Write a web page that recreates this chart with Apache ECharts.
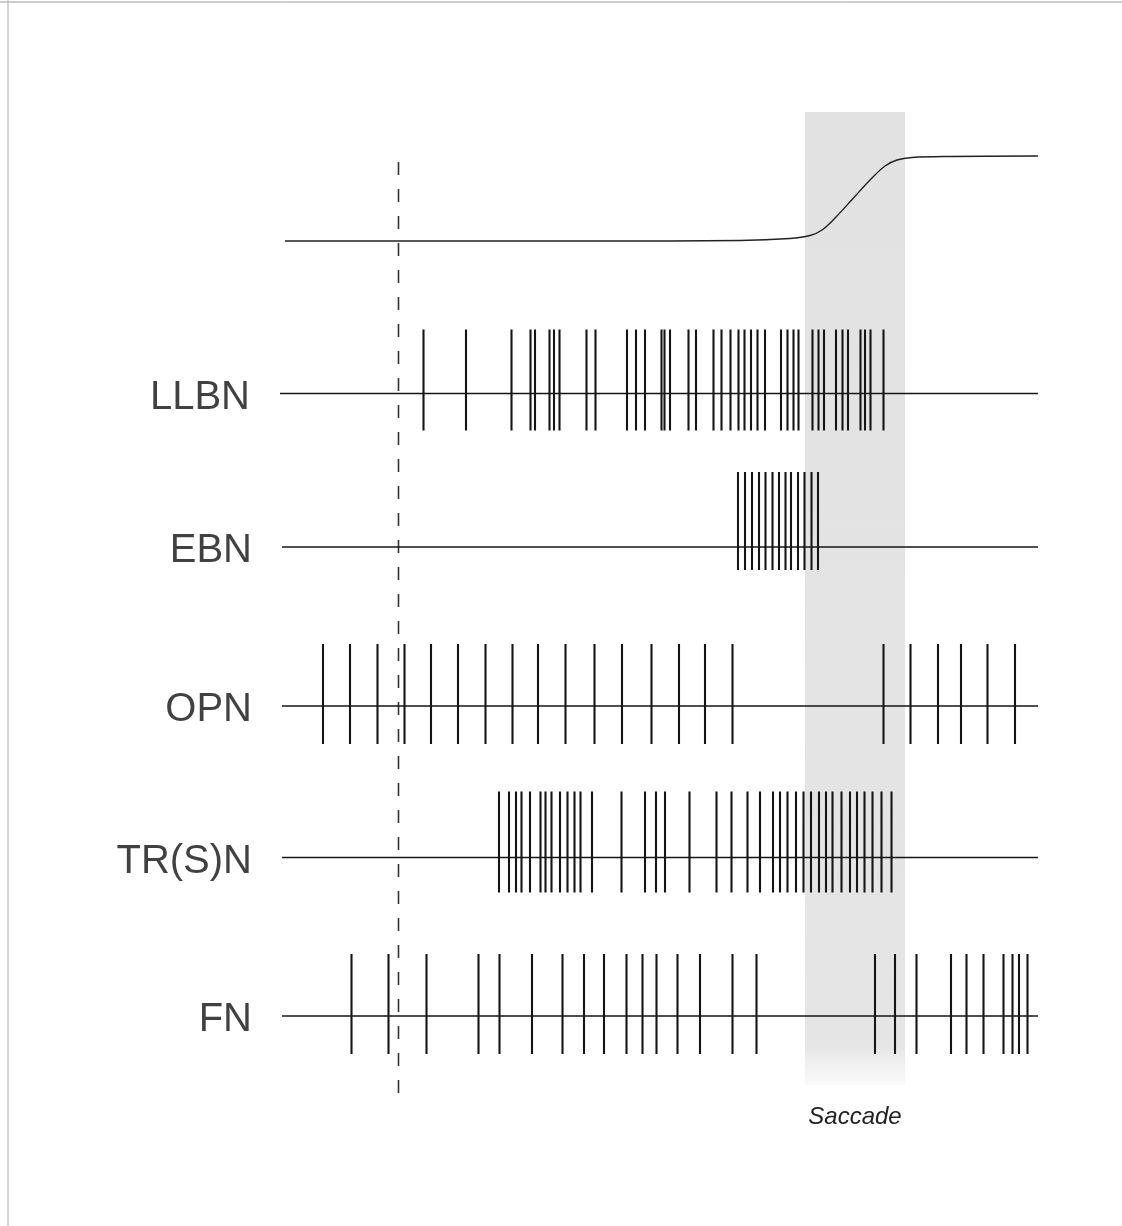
<!DOCTYPE html>
<html>
<head>
<meta charset="utf-8">
<title>Saccade burst neurons</title>
<script src="https://cdn.jsdelivr.net/npm/echarts@6/dist/echarts.min.js"></script>
<style>
    html, body { margin: 0; padding: 0; background: #ffffff; }
    #chart { width: 1122px; height: 1226px; }
</style>
</head>
<body>
<div id="chart"></div>
<script>
'use strict';
// spike times, in the horizontal units of the figure
var llbnSpikes = [423.5, 466, 511.5, 530.5, 535, 549.5, 554, 559.5, 586.5, 595.5, 627, 636, 645,
    661.5, 664.5, 670, 688.5, 696, 713.5, 721.5, 730.5, 738.5, 744.5, 751, 757.5, 765, 781, 787.5,
    793.5, 798.5, 812.5, 818.5, 824, 836, 842.5, 848, 860.5, 865, 870.5, 883.5];
var ebnSpikes = [738, 745, 752, 759, 765.5, 772.5, 779, 785.5, 791, 798, 804.5, 811.5, 818];
var opnSpikes = [323, 350, 377.5, 404.5, 431, 458, 485.5, 512.5, 538, 565.5, 594.5, 622, 651.5,
    679, 705, 732.5, 883.5, 910.5, 938, 961, 987.5, 1015];
var trsnSpikes = [499, 509, 516, 521.5, 530, 540.5, 545.5, 551.5, 560, 567.5, 574.5, 580.5, 592,
    621.5, 645, 656, 665, 689.5, 716.5, 731.5, 747.5, 760, 773, 780, 787.5, 796, 803.5, 811, 819,
    826, 832.5, 841.5, 850, 857, 864.5, 872.5, 881.5, 891.5];
var fnSpikes = [351.5, 388.5, 426.5, 478.5, 499.5, 532, 562.5, 584, 604, 626.5, 642.5, 656.5,
    677.5, 700, 732.5, 756.5, 875, 895, 916.5, 951, 966.5, 983.5, 1003.5, 1012.5, 1019, 1027.5];
// eye position trace (x, y)
var eyePosition = [[285, 241], [600, 241], [740, 240.5], [790, 238.5], [810, 235.5], [822, 230],
    [836, 217], [853, 198.5], [870, 180], [885, 166], [897, 160], [912, 157.5], [950, 156.5],
    [1038, 156]];
var saccadeWindow = [805, 905];
var onsetMarker = 398.5;

var rows = [
    {name: 'LLBN', base: 393.5, up: 64, down: 37, from: 280, spikes: llbnSpikes},
    {name: 'EBN', base: 547, up: 75, down: 23, from: 282, spikes: ebnSpikes},
    {name: 'OPN', base: 706, up: 62, down: 38, from: 282, spikes: opnSpikes},
    {name: 'TR(S)N', base: 857.5, up: 66, down: 35, from: 282, spikes: trsnSpikes},
    {name: 'FN', base: 1016, up: 62, down: 38, from: 282, spikes: fnSpikes}
];

var chart = echarts.init(document.getElementById('chart'), null, {renderer: 'canvas'});

function spikeRenderer(row) {
    return function (params, api) {
        var p = api.coord([api.value(0), row.base]);
        return {
            type: 'line',
            shape: {x1: p[0], y1: p[1] - row.up, x2: p[0], y2: p[1] + row.down},
            style: {stroke: '#151515', lineWidth: 2.1}
        };
    };
}

var series = [];

series.push({
    type: 'line',
    name: 'eye',
    data: eyePosition,
    smooth: 0.35,
    symbol: 'none',
    lineStyle: {color: '#222', width: 1.4},
    z: 3,
    markArea: {
        silent: true,
        itemStyle: {
            color: new echarts.graphic.LinearGradient(0, 0, 0, 1, [
                {offset: 0, color: '#e2e2e2'},
                {offset: 0.96, color: '#e5e5e5'},
                {offset: 1, color: 'rgba(238,238,238,0.3)'}
            ])
        },
        label: {
            show: true,
            position: 'bottom',
            distance: 20,
            formatter: 'Saccade',
            fontFamily: 'Liberation Sans',
            fontStyle: 'italic',
            fontSize: 24,
            color: '#222'
        },
        data: [[{xAxis: saccadeWindow[0], yAxis: 112}, {xAxis: saccadeWindow[1], yAxis: 1085}]]
    }
});

series.push({
    type: 'line',
    name: 'onset',
    data: [[onsetMarker, 162], [onsetMarker, 1100]],
    symbol: 'none',
    lineStyle: {color: '#333', width: 1.6, type: [13, 14]},
    z: 2
});

rows.forEach(function (row) {
    series.push({
        type: 'line',
        name: row.name + ' base',
        symbol: 'none',
        lineStyle: {color: '#151515', width: 1.5},
        z: 4,
        data: [[row.from, row.base], [1038, row.base]]
    });
    series.push({
        type: 'custom',
        name: row.name,
        renderItem: spikeRenderer(row),
        clip: false,
        z: 5,
        data: row.spikes.map(function (t) { return [t]; })
    });
});

// row names, anchored at the left end of each baseline
series.push({
    type: 'scatter',
    name: 'labels',
    symbolSize: 0,
    silent: true,
    z: 6,
    label: {
        show: true,
        position: 'left',
        distance: 30,
        offset: [0, 4],
        formatter: function (p) { return p.data[2]; },
        fontFamily: 'Liberation Sans',
        fontSize: 40,
        color: '#111'
    },
    data: rows.map(function (row) { return [row.from, row.base, row.name]; })
});

var option = {
    backgroundColor: '#ffffff',
    animation: false,
    grid: {left: 0, right: 0, top: 0, bottom: 0},
    xAxis: {type: 'value', min: 0, max: 1122, show: false},
    yAxis: {type: 'value', min: 0, max: 1226, inverse: true, show: false},
    graphic: [
        {type: 'line', shape: {x1: 0, y1: 2, x2: 1122, y2: 2}, style: {stroke: '#9a9a9a', lineWidth: 1}},
        {type: 'line', shape: {x1: 8, y1: 0, x2: 8, y2: 1226}, style: {stroke: '#b0b0b0', lineWidth: 1}}
    ],
    series: series
};

chart.setOption(option);
</script>
</body>
</html>
